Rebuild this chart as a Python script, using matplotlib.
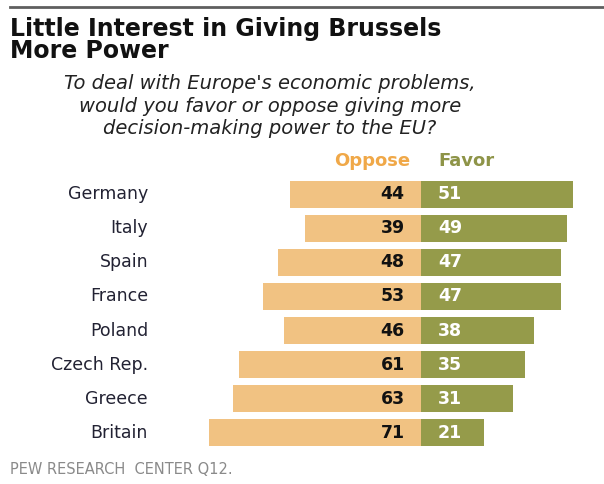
import matplotlib.pyplot as plt

countries = ["Germany", "Italy", "Spain", "France", "Poland", "Czech Rep.", "Greece", "Britain"]
oppose = [44, 39, 48, 53, 46, 61, 63, 71]
favor = [51, 49, 47, 47, 38, 35, 31, 21]

c_oppose = "#F1C282"
c_favor = "#959B4A"

fig = plt.figure(figsize=(6.04, 4.84), dpi=100)
ax = fig.add_axes([0, 0, 1, 1])
ax.set_xlim(-141.3, 61.4)
ax.set_ylim(8.50, -5.69)
ax.axis("off")

rows = list(range(len(countries)))
ax.barh(rows, [-v for v in oppose], height=0.79, color=c_oppose)
ax.barh(rows, favor, height=0.79, color=c_favor)

for i, (name, o, f) in enumerate(zip(countries, oppose, favor)):
    ax.text(-91.6, i, name, ha="right", va="center", fontsize=12.5, color="#222233")
    ax.text(-5.5, i, str(o), ha="right", va="center", fontsize=12.5,
            fontweight="bold", color="#111111")
    ax.text(5.7, i, str(f), ha="left", va="center", fontsize=12.5,
            fontweight="bold", color="white")

# headers
fig.text(410 / 604, 1 - 161 / 484, "Oppose", ha="right", va="center",
         fontsize=13, fontweight="bold", color="#F0A848")
fig.text(438 / 604, 1 - 161 / 484, "Favor", ha="left", va="center",
         fontsize=13, fontweight="bold", color="#8E9448")

# title and question
fig.add_artist(plt.Line2D([10 / 604, 1], [1 - 7 / 484, 1 - 7 / 484],
                          color="#5f5f5f", lw=2))
fig.text(10 / 604, 1 - 17 / 484, "Little Interest in Giving Brussels\nMore Power",
         ha="left", va="top", fontsize=17, fontweight="bold",
         color="#111111", linespacing=0.88)
fig.text(270 / 604, 1 - 106 / 484,
         "To deal with Europe's economic problems,\nwould you favor or oppose giving more\ndecision-making power to the EU?",
         ha="center", va="center", fontsize=14, style="italic",
         color="#222222", linespacing=1.22)

fig.text(10 / 604, 1 - 470 / 484, "PEW RESEARCH  CENTER Q12.", ha="left",
         va="center", fontsize=10.5, color="#8a8a8a")

fig.savefig("out.png", dpi=100)
